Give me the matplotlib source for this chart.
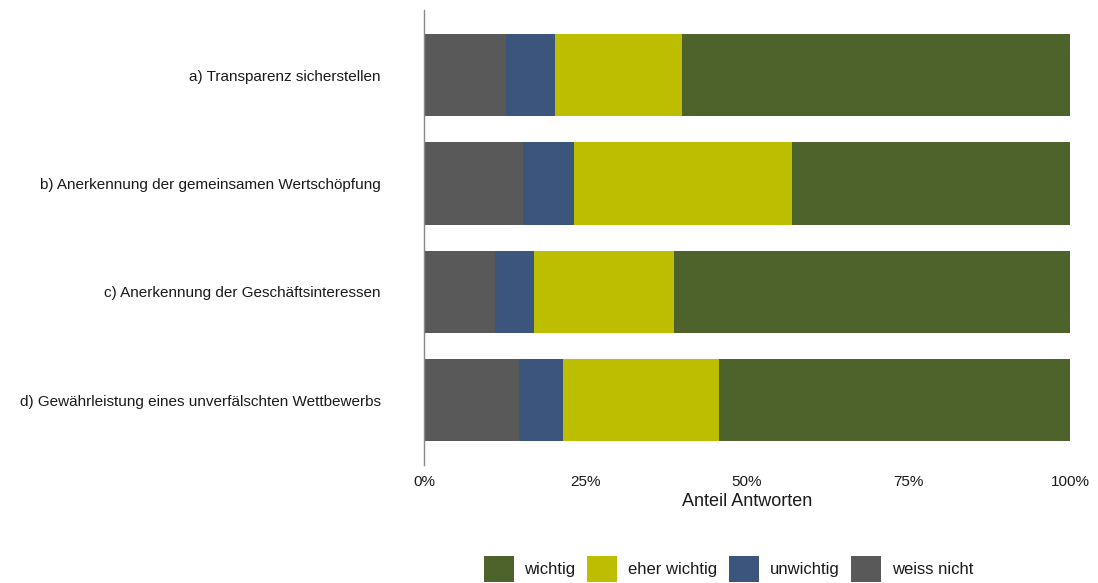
import matplotlib
matplotlib.use("Agg")
import matplotlib.pyplot as plt
from matplotlib.ticker import PercentFormatter

plt.rcParams['font.family'] = ['Liberation Sans', 'DejaVu Sans']

categories = [
    "a) Transparenz sicherstellen",
    "b) Anerkennung der gemeinsamen Wertschöpfung",
    "c) Anerkennung der Geschäftsinteressen",
    "d) Gewährleistung eines unverfälschten Wettbewerbs",
]
weiss_nicht = [12.7, 15.3, 11.0, 14.7]
unwichtig = [7.6, 7.9, 6.0, 6.8]
eher_wichtig = [19.7, 33.7, 21.7, 24.1]
wichtig = [60.0, 43.1, 61.3, 54.4]

colors = {
    "wichtig": "#4E632C",
    "eher wichtig": "#BDBE00",
    "unwichtig": "#3B557C",
    "weiss nicht": "#595959",
}

fig = plt.figure(figsize=(10.98, 5.83), dpi=100)
ax = fig.add_axes([0.3862, 0.2024, 0.5883, 0.7804])

y = list(range(len(categories)))
h = 0.76
left = [0.0] * len(categories)
handles = {}
for name, vals in [("weiss nicht", weiss_nicht), ("unwichtig", unwichtig),
                   ("eher wichtig", eher_wichtig), ("wichtig", wichtig)]:
    bars = ax.barh(y, vals, left=left, height=h, color=colors[name], label=name)
    handles[name] = bars
    left = [l + v for l, v in zip(left, vals)]

ax.set_xlim(0, 100)
ax.set_ylim(3.6, -0.6)
ax.set_yticks(y)
ax.set_yticklabels(categories, fontsize=11, color="#1a1a1a")
ax.set_xticks([0, 25, 50, 75, 100])
ax.xaxis.set_major_formatter(PercentFormatter(decimals=0))
ax.tick_params(axis="x", length=0, labelsize=11, labelcolor="#1a1a1a", pad=7)
ax.tick_params(axis="y", length=0, pad=31)
ax.set_xlabel("Anteil Antworten", fontsize=13, color="#1a1a1a", labelpad=3)

for s in ["top", "right", "bottom"]:
    ax.spines[s].set_visible(False)
ax.spines["left"].set_color("#888888")
ax.spines["left"].set_linewidth(1)

order = ["wichtig", "eher wichtig", "unwichtig", "weiss nicht"]
fig.legend([handles[k] for k in order], order, loc="center", ncol=4,
           bbox_to_anchor=(0.6635, 0.024), frameon=False, fontsize=12,
           handlelength=1.8, handleheight=2.0, handletextpad=0.65,
           columnspacing=0.7, labelcolor="#1a1a1a")

fig.savefig("out.png", dpi=100)
